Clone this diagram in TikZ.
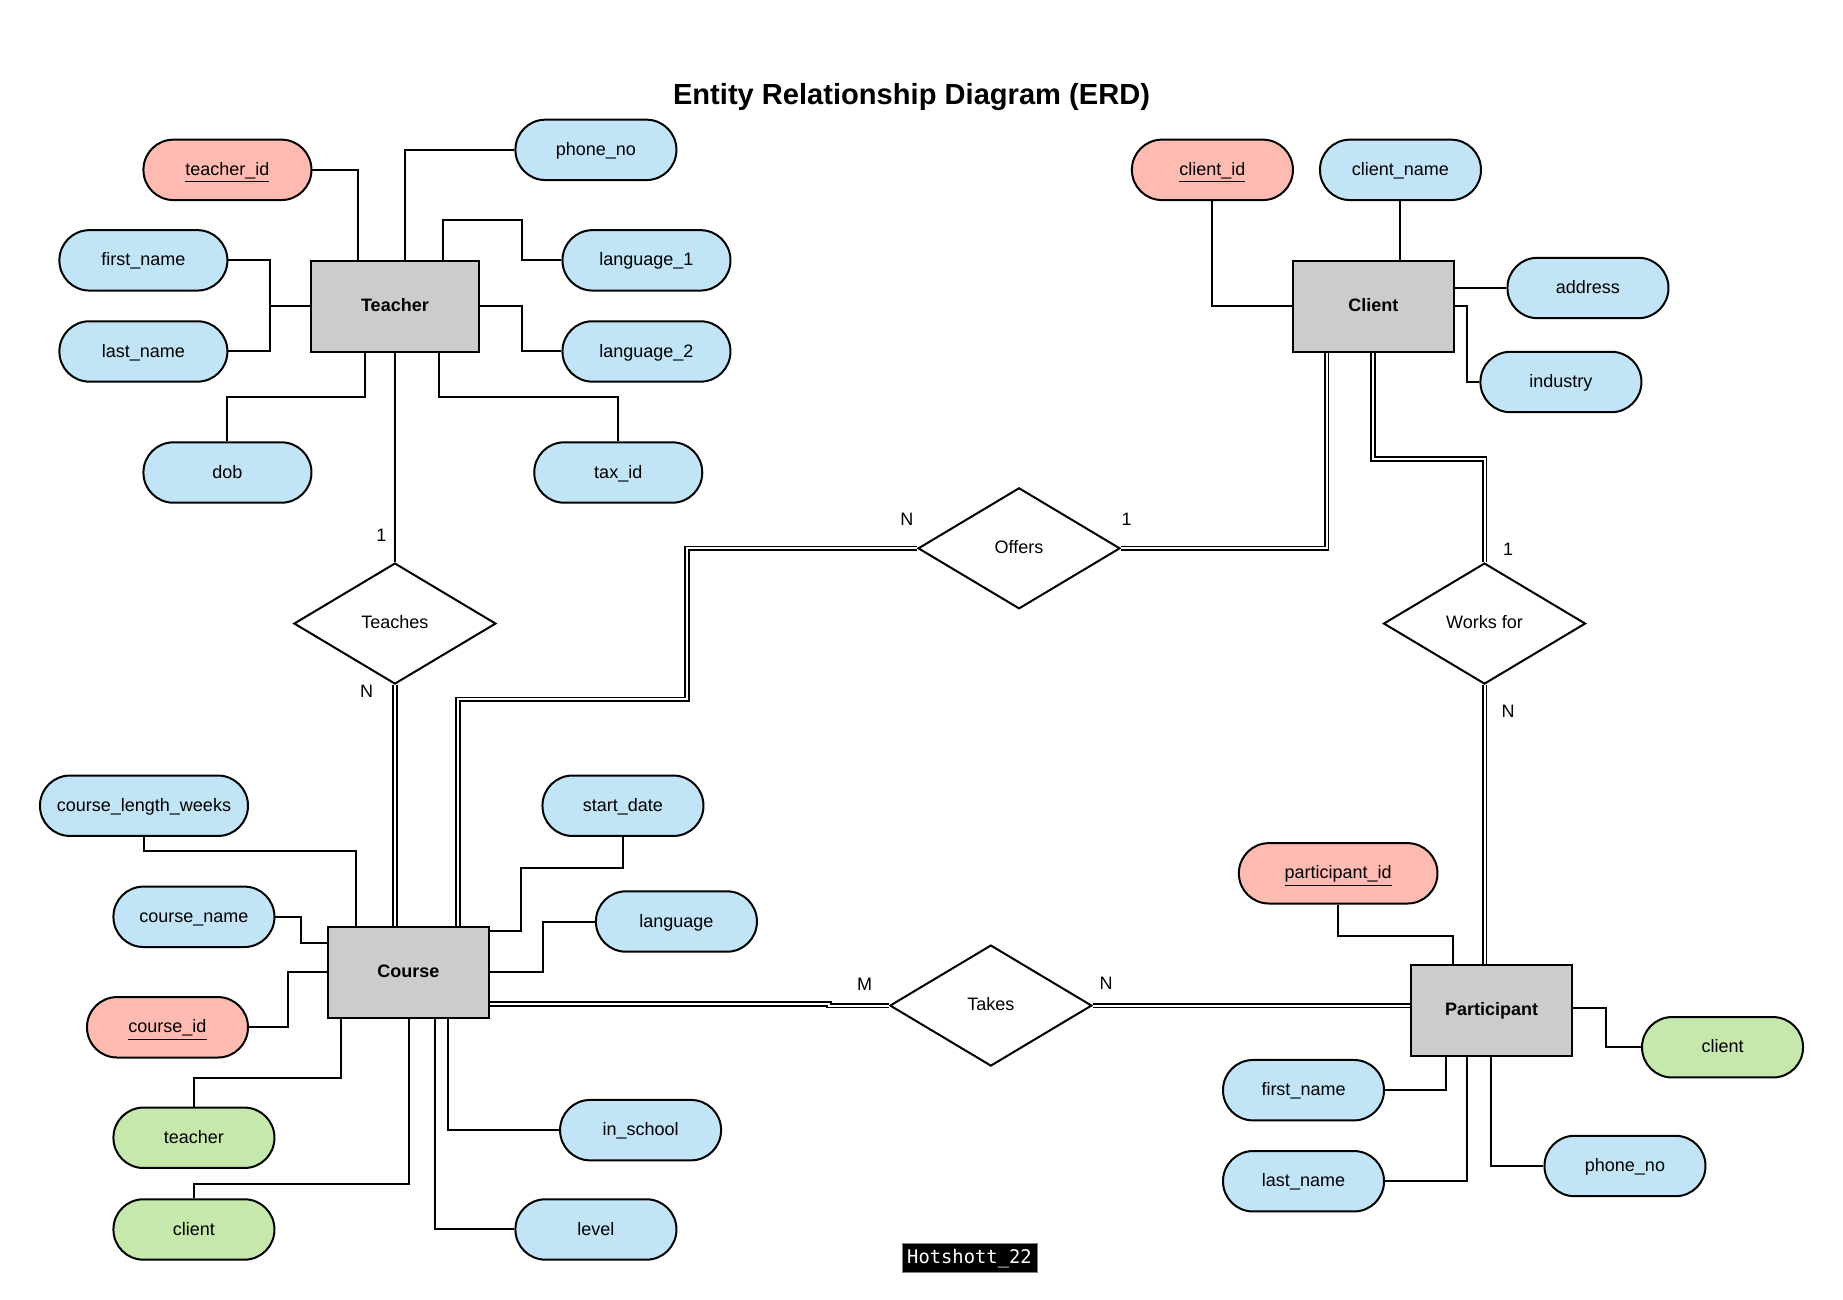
\documentclass[tikz,border=0pt]{standalone}
\usepackage{fontspec}
\setmainfont{Liberation Sans}
\usetikzlibrary{calc,shapes.geometric}

\definecolor{attrblue}{HTML}{C1E4F7}
\definecolor{keypink}{HTML}{FFBBB1}
\definecolor{derivedgreen}{HTML}{C7E8AC}
\definecolor{entitygray}{HTML}{CCCCCC}

\tikzset{
    every node/.style={font=\fontsize{9}{11}\selectfont},
    conn/.style={line width=1pt},
    dconn/.style={line width=0.9pt,double,double distance=1pt},
    attr/.style={draw,line width=1pt,rectangle,rounded corners=15pt,minimum height=30.2pt,inner sep=0pt,
        text height=7.6pt,text depth=2pt,minimum width=#1},
    entity/.style={draw,line width=1pt,fill=entitygray,rectangle,minimum height=45.5pt,inner sep=0pt,
        text height=7pt,text depth=2pt,minimum width=#1,font=\fontsize{9}{11}\selectfont\bfseries},
    relation/.style={draw,line width=1pt,diamond,aspect=1.67,minimum width=101pt,minimum height=60.5pt,inner sep=0pt,
        text height=7pt,text depth=2pt},
}

\begin{document}
\begin{tikzpicture}[x=0.5877pt,y=-0.5877pt]
    \useasboundingbox (0,0) rectangle (1568,1106);

    \node[font=\fontsize{14.55}{17}\selectfont\bfseries] (title) at (775.5,82.5) {Entity Relationship Diagram (ERD)};

    % entities
    \node[entity=84pt] (teacher) at (336,260.5) {Teacher};
    \node[entity=80.5pt] (course) at (347.5,827) {Course};
    \node[entity=80.5pt] (client) at (1168.5,260.5) {Client};
    \node[entity=80.5pt] (participant) at (1269,859.5) {Participant};

    % relationships
    \node[relation] (teaches) at (336,530.5) {Teaches};
    \node[relation] (offers) at (867,466.5) {Offers};
    \node[relation] (worksfor) at (1263,530.5) {Works for};
    \node[relation] (takes) at (843,855.5) {Takes};

    % attributes
    \foreach \nm/\x/\y/\lbl in {firstname/122/221.5/first\_name,lastname/122/299/last\_name,
        languageone/550/221.5/language\_1,languagetwo/550/299/language\_2,dob/193.5/402/dob,taxid/526/402/tax\_id}
        \node[attr=84pt,fill=attrblue] (\nm) at (\x,\y) {\lbl};
    \foreach \nm/\x/\y/\lbl in {phoneno/507/127.5/phone\_no,clientname/1191.5/144.5/client\_name,
        address/1351/245/address,industry/1328/325/industry,coursename/165/780/course\_name,
        startdate/530/685.5/start\_date,language/575.5/784/language,inschool/545/961.5/in\_school,
        level/507/1046/level,pfirstname/1109/927.5/first\_name,plastname/1109/1005/last\_name,
        pphoneno/1382.5/992/phone\_no}
        \node[attr=80.5pt,fill=attrblue] (\nm) at (\x,\y) {\lbl};
    \node[attr=104pt,fill=attrblue] (courselength) at (122.5,685.5) {course\_length\_weeks};

    % keys
    \node[attr=84pt,fill=keypink] (teacherid) at (193.5,144.5) {\underline{teacher\_id}};
    \node[attr=80.5pt,fill=keypink] (clientid) at (1031.5,144.5) {\underline{client\_id}};
    \node[attr=80.5pt,fill=keypink] (courseid) at (142.5,874) {\underline{course\_id}};
    \node[attr=99.3pt,fill=keypink] (participantid) at (1138.5,743) {\underline{participant\_id}};

    % derived
    \foreach \nm/\x/\y/\lbl in {cteacher/165/968/teacher,cclient/165/1046/client,pclient/1465.5/891/client}
        \node[attr=80.5pt,fill=derivedgreen] (\nm) at (\x,\y) {\lbl};

    % teacher attributes
    \draw[conn] (teacherid.east) -| ($(teacher.north west)+(40.5,0)$);
    \draw[conn] (phoneno.west) -| ($(teacher.north west)+(80.5,0)$);
    \draw[conn] (languageone.west) -- ++(-34,0) -- ++(0,-34.5) -| ($(teacher.north west)+(113,0)$);
    \draw[conn] (languagetwo.west) -- ++(-34,0) |- (teacher.east);
    \draw[conn] (firstname.east) -- ++(35.5,0) |- (lastname.east);
    \draw[conn] (teacher.west) -- ++(-34,0);
    \draw[conn] (dob.north) -- ++(0,-37.5) -| ($(teacher.south west)+(47,0)$);
    \draw[conn] (taxid.north) -- ++(0,-37.5) -| ($(teacher.south west)+(109.5,0)$);

    % client attributes
    \draw[conn] (clientid.south) |- (client.west);
    \draw[conn] (clientname.south) -- (clientname.south |- client.north);
    \draw[conn] (address.west) -- (address.west -| client.east);
    \draw[conn] (industry.west) -- ++(-11,0) |- (client.east);

    % course attributes
    \draw[conn] (courselength.south) -- ++(0,12) -| ($(course.north west)+(24.5,0)$);
    \draw[conn] (coursename.east) -- ++(22,0) |- ($(course.north west)+(0,14.5)$);
    \draw[conn] (courseid.east) -- ++(33.5,0) |- (course.west);
    \draw[conn] (cteacher.north) -- ++(0,-24.5) -| ($(course.south west)+(12,0)$);
    \draw[conn] (cclient.north) -- ++(0,-12.5) -| ($(course.south west)+(69.5,0)$);
    \draw[conn] (startdate.south) -- ++(0,26) -- ++(-87,0) |- ($(course.north east)+(0,4.5)$);
    \draw[conn] (language.west) -- ++(-44.5,0) |- (course.east);
    \draw[conn] (inschool.west) -| ($(course.south west)+(103,0)$);
    \draw[conn] (level.west) -| ($(course.south west)+(91.5,0)$);

    % participant attributes
    \draw[conn] (participantid.south) -- ++(0,26.5) -| ($(participant.north west)+(36.5,0)$);
    \draw[conn] (pfirstname.east) -| ($(participant.south west)+(30.5,0)$);
    \draw[conn] (plastname.east) -| ($(participant.south west)+(48,0)$);
    \draw[conn] (pphoneno.west) -| ($(participant.south west)+(69,0)$);
    \draw[conn] (pclient.west) -- ++(-30,0) |- ($(participant.north east)+(0,38)$);

    % relationship lines
    \draw[conn] (teacher.south) -- (teaches.north);
    \draw[dconn] (teaches.south) -- (teaches.south |- course.north);
    \draw[dconn] ($(course.north west)+(111.5,0)$) -- ++(0,-192.5) -- ++(195,0) |- (offers.west);
    \draw[dconn] (offers.east) -| ($(client.south west)+(29.5,0)$);
    \draw[dconn] ($(client.south west)+(69,0)$) -- ++(0,90.5) -| (worksfor.north);
    \draw[dconn] (worksfor.south) -- (worksfor.south |- participant.north);
    \draw[dconn] ($(takes.west -| course.east)+(0,-1.2)$) -- ++(288.5,0) -- ++(0,1.2) -- (takes.west);
    \draw[dconn] (takes.east) -- (takes.east -| participant.west);

    % cardinalities
    \node (teachesone) at (324.5,455) {1};
    \node (teachesn) at (312,588) {N};
    \node (offersn) at (771.5,441.5) {N};
    \node (offersone) at (958.5,441.5) {1};
    \node (worksone) at (1283,467.5) {1};
    \node (worksn) at (1283,605) {N};
    \node (takesm) at (735.5,837) {M};
    \node (takesn) at (941,836.5) {N};

    % badge
    \node[draw=gray,fill=black,text=white,line width=0.4pt,minimum width=67.5pt,minimum height=14.5pt,inner sep=0pt,
        text height=7.6pt,text depth=1.6pt,font=\fontsize{9.4}{11}\fontspec{DejaVu Sans Mono}] (badge) at (824.8,1069.8) {Hotshott\_22};
\end{tikzpicture}
\end{document}
